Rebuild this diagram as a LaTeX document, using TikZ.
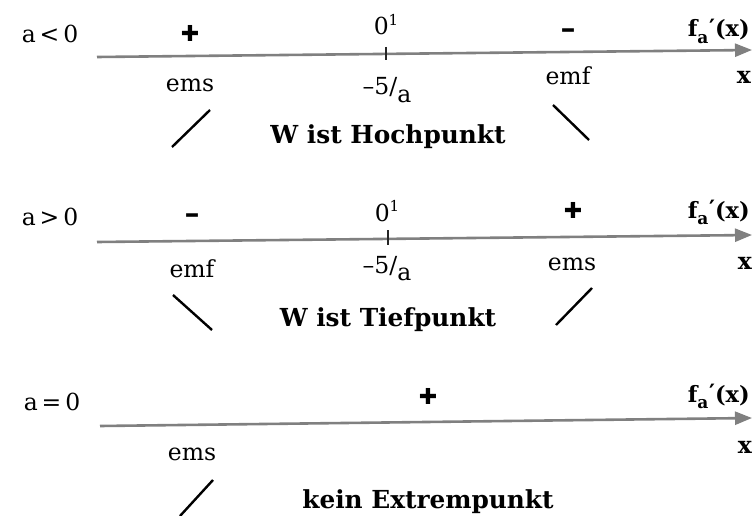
\documentclass[tikz,border=0pt]{standalone}
\usepackage{fontspec}
\setmainfont{DejaVu Serif}
\newfontfamily\symfont{DejaVu Sans}
\usetikzlibrary{arrows.meta}
\newcommand{\negfivea}{–5/\raisebox{-0.3em}{a}}
\newcommand{\zeroone}{0\raisebox{0.42em}{\fontsize{15}{15}\selectfont 1}}
\newcommand{\fprime}{\textbf{f\raisebox{-0.28em}{\fontsize{17}{17}\selectfont a}\kern0.03em\raisebox{0.05em}{′}(x)}}
\begin{document}
\begin{tikzpicture}[x=1pt,y=-1pt,
  every node/.style={inner sep=0pt, font=\fontsize{23.5}{27}\selectfont},
  txt/.style={anchor=base},
  rtxt/.style={anchor=base east, font=\fontsize{22.5}{26}\selectfont},
  plus/.style={anchor=center, font=\fontsize{22}{24}\symfont},
  minus/.style={anchor=center, font=\fontsize{30}{32}\selectfont\bfseries},
  titletxt/.style={anchor=base, font=\fontsize{24.8}{28}\selectfont\bfseries},
  axisline/.style={draw=black!50, line width=2.6pt, -{Triangle[length=17pt,width=13pt]}},
  tickline/.style={draw=black!85, line width=1.6pt},
  slope/.style={draw=black, line width=2.4pt}]
\useasboundingbox (0,0) rectangle (752,516);
\fill[white] (0,0) rectangle (752,516);

% ---------- row 1 : a < 0 ----------
\node[txt] (c1) at (50,43) {a\,<\,0};
\node[plus] (p1) at (190,33) {✚};
\node[txt] (z1) at (386,35) {\zeroone};
\node[minus] (m1) at (568,34) {–};
\node[rtxt] (f1) at (750,37) {\fprime};
\coordinate (a1s) at (97,57);
\coordinate (a1e) at (752,50);
\draw[axisline] (a1s) -- (a1e);
\coordinate (t1a) at (386,47);
\coordinate (t1b) at (386,60);
\draw[tickline] (t1a) -- (t1b);
\node[txt] (e1) at (190,92) {ems};
\node[txt] (n1) at (387,95) {\negfivea};
\node[txt] (g1) at (568,85) {emf};
\node[txt] (x1) at (744,84) {\textbf{x}};
\coordinate (s1a) at (172,147);
\coordinate (s1b) at (210,110);
\draw[slope] (s1a) -- (s1b);
\coordinate (s1c) at (553,105);
\coordinate (s1d) at (589,140);
\draw[slope] (s1c) -- (s1d);
\node[titletxt] (w1) at (388,143) {W ist Hochpunkt};

% ---------- row 2 : a > 0 ----------
\node[txt] (c2) at (50,225) {a\,>\,0};
\node[minus] (m2) at (192,219) {–};
\node[txt] (z2) at (387,221) {\zeroone};
\node[plus] (p2) at (573,210) {✚};
\node[rtxt] (f2) at (750,218) {\fprime};
\coordinate (a2s) at (97,242);
\coordinate (a2e) at (752,235);
\draw[axisline] (a2s) -- (a2e);
\coordinate (t2a) at (388,230);
\coordinate (t2b) at (388,245);
\draw[tickline] (t2a) -- (t2b);
\node[txt] (e2) at (192,277) {emf};
\node[txt] (n2) at (387,273) {\negfivea};
\node[txt] (g2) at (572,270) {ems};
\node[txt] (x2) at (745,269) {\textbf{x}};
\coordinate (s2a) at (173,295);
\coordinate (s2b) at (212,330);
\draw[slope] (s2a) -- (s2b);
\coordinate (s2c) at (556,325);
\coordinate (s2d) at (592,288);
\draw[slope] (s2c) -- (s2d);
\node[titletxt] (w2) at (388,326) {W ist Tiefpunkt};

% ---------- row 3 : a = 0 ----------
\node[txt] (c3) at (52,410) {a\,=\,0};
\node[plus] (p3) at (428,396) {✚};
\node[rtxt] (f3) at (750,402) {\fprime};
\coordinate (a3s) at (100,426);
\coordinate (a3e) at (752,418);
\draw[axisline] (a3s) -- (a3e);
\node[txt] (e3) at (192,460) {ems};
\node[txt] (x3) at (745,453) {\textbf{x}};
\coordinate (s3a) at (180,516);
\coordinate (s3b) at (213,480);
\draw[slope] (s3a) -- (s3b);
\node[titletxt] (w3) at (428,508) {kein Extrempunkt};
\end{tikzpicture}
\end{document}
